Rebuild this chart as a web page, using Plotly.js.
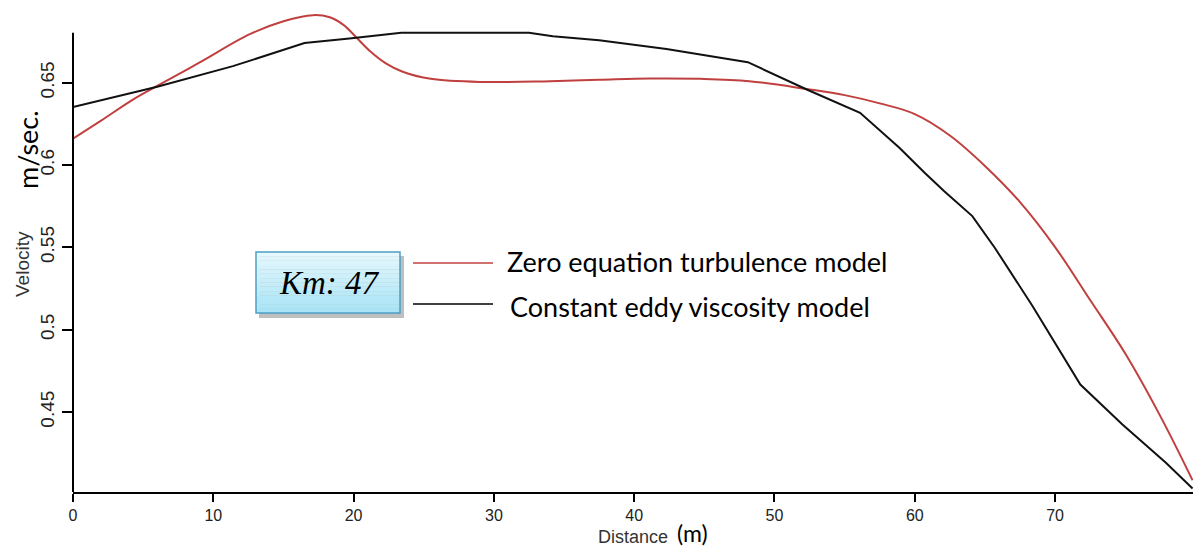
<!DOCTYPE html>
<html>
<head>
<meta charset="utf-8">
<script src="https://cdn.plot.ly/plotly-3.0.1.min.js"></script>
<style>
  html, body { margin: 0; padding: 0; background: #ffffff; }
  #chart { width: 1193px; height: 548px; }
</style>
</head>
<body>
<div id="chart"></div>
<script>
// ---- Data ----
const zeroEqX = [0, 2, 4.3, 5.9, 9, 12.6, 15, 17.1, 18.3, 19.3, 20.2, 21.2, 22.3, 23.5, 25.5, 29, 34, 37.5, 41.1, 44.7, 48.2, 52.3, 55, 57.5, 60, 62.5, 65, 67.5, 70, 72.5, 75, 77.5, 79.8];
const zeroEqY = [0.6160, 0.6270, 0.6399, 0.6476, 0.6622, 0.6795, 0.6874, 0.6911, 0.6898, 0.6850, 0.6775, 0.6690, 0.6618, 0.6567, 0.6524, 0.6505, 0.6510, 0.6518, 0.6526, 0.6524, 0.6510, 0.6462, 0.6425, 0.6375, 0.6310, 0.6180, 0.5995, 0.5775, 0.5502, 0.5180, 0.4855, 0.4475, 0.4085];

const constEddyX = [0, 6, 11.4, 16.5, 19.7, 23.4, 32.5, 34.2, 37.5, 42.3, 48.1, 52.3, 56.1, 58.9, 60.7, 62.1, 64.1, 65.7, 68.4, 70.3, 71.8, 74.8, 77.9, 79.8];
const constEddyY = [0.6352, 0.6476, 0.6601, 0.6742, 0.6769, 0.6804, 0.6804, 0.6783, 0.6758, 0.6705, 0.6625, 0.6459, 0.6318, 0.6105, 0.5953, 0.5841, 0.5690, 0.5498, 0.5143, 0.4880, 0.4667, 0.4424, 0.4191, 0.4035];

const xTickVals = [0, 10, 20, 30, 40, 50, 60, 70];
const xTickText = ["0", "10", "20", "30", "40", "50", "60", "70"];
const yTickVals = [0.45, 0.5, 0.55, 0.6, 0.65];
const yTickText = ["0.45", "0.5", "0.55", "0.6", "0.65"];

const seriesNames = ["Zero equation turbulence model", "Constant eddy viscosity model"];
const boxLabel = "Km: 47";

// ---- Layout helpers (pixel -> paper) ----
const L = 73, T = 12, W = 1120, H = 480, B = 56;
const px = x => (x - L) / W;
const py = y => (T + H - y) / H;

const xMax = 79.83;
const yMin = 0.4014, yMaxRange = 0.693, yAxisTop = 0.6804;

const shapes = [];
shapes.push({type: 'line', xref: 'paper', yref: 'y', x0: 0, x1: 0, y0: yMin, y1: yAxisTop,
  line: {color: '#000', width: 2}, layer: 'above'});
[yMin, yAxisTop].forEach(v => shapes.push({type: 'line', xref: 'x', xsizemode: 'pixel', xanchor: 0,
  x0: -10, x1: 0, yref: 'y', y0: v, y1: v, line: {color: '#000', width: 2}, layer: 'above'}));

// Km box: shadow + gradient bands + border
const bx0 = 256, bx1 = 400, by0 = 252, by1 = 313;
shapes.push({type: 'rect', xref: 'paper', yref: 'paper', x0: px(bx0 + 3), x1: px(bx1 + 4), y0: py(by0 + 4), y1: py(by1 + 5),
  fillcolor: 'rgba(0,0,0,0.25)', line: {width: 0}});
const nb = 14;
const c0 = [228, 248, 253], c1 = [168, 228, 246];
for (let i = 0; i < nb; i++) {
  const t = i / (nb - 1);
  const c = c0.map((v, k) => Math.round(v + (c1[k] - v) * t));
  shapes.push({type: 'rect', xref: 'paper', yref: 'paper', x0: px(bx0), x1: px(bx1),
    y0: py(by0 + (by1 - by0) * i / nb), y1: py(by0 + (by1 - by0) * (i + 1) / nb),
    fillcolor: 'rgb(' + c.join(',') + ')', line: {width: 0}});
}
shapes.push({type: 'rect', xref: 'paper', yref: 'paper', x0: px(bx0), x1: px(bx1), y0: py(by0), y1: py(by1),
  fillcolor: 'rgba(0,0,0,0)', line: {color: '#4d9fc6', width: 1.5}});

// legend sample lines
shapes.push({type: 'line', xref: 'paper', yref: 'paper', x0: px(413), x1: px(493), y0: py(263), y1: py(263),
  line: {color: '#c0403f', width: 1.5}});
shapes.push({type: 'line', xref: 'paper', yref: 'paper', x0: px(413), x1: px(493), y0: py(304), y1: py(304),
  line: {color: '#000', width: 1.5}});

const annotations = [
  {xref: 'paper', yref: 'paper', x: px(329), y: py(283), text: '<i>' + boxLabel + '</i>', showarrow: false,
   font: {family: 'Liberation Serif, DejaVu Serif, serif', size: 33, color: '#000'}, xanchor: 'center', yanchor: 'middle'},
  {xref: 'paper', yref: 'paper', x: px(505), y: py(261), text: seriesNames[0], showarrow: false,
   font: {family: 'Lato, Open Sans, sans-serif', size: 27, color: '#000'}, xanchor: 'left', yanchor: 'middle'},
  {xref: 'paper', yref: 'paper', x: px(508), y: py(306), text: seriesNames[1], showarrow: false,
   font: {family: 'Lato, Open Sans, sans-serif', size: 27, color: '#000'}, xanchor: 'left', yanchor: 'middle'},
  {xref: 'paper', yref: 'paper', x: px(22), y: py(264), text: 'Velocity', showarrow: false, textangle: -90,
   font: {family: 'Liberation Sans, Arial, sans-serif', size: 19, color: '#333'}, xanchor: 'center', yanchor: 'middle'},
  {xref: 'paper', yref: 'paper', x: px(27), y: py(150), text: 'm/sec.', showarrow: false, textangle: -90,
   font: {family: 'Lato, Open Sans, sans-serif', size: 27, color: '#000'}, xanchor: 'center', yanchor: 'middle'},
  {xref: 'paper', yref: 'paper', x: px(597), y: py(548), text: 'Distance', borderpad: 0,
   showarrow: false, font: {family: 'Liberation Sans, Arial, sans-serif', size: 18, color: '#333'},
   xanchor: 'left', yanchor: 'bottom'},
  {xref: 'paper', yref: 'paper', x: px(676), y: py(548), text: '(m)', borderpad: 0,
   showarrow: false, font: {family: 'Lato, Open Sans, sans-serif', size: 23, color: '#000'},
   xanchor: 'left', yanchor: 'bottom'}
];

const data = [
  {x: zeroEqX, y: zeroEqY, type: 'scatter', mode: 'lines', name: seriesNames[0],
   line: {color: '#c0403f', width: 2, shape: 'spline', smoothing: 1}},
  {x: constEddyX, y: constEddyY, type: 'scatter', mode: 'lines', name: seriesNames[1],
   line: {color: '#111', width: 2}}
];

const layout = {
  width: 1193, height: 548,
  margin: {l: L, r: 0, t: T, b: B, pad: 0},
  paper_bgcolor: '#fff', plot_bgcolor: '#fff',
  showlegend: false,
  xaxis: {
    range: [0, xMax], tickmode: 'array', tickvals: xTickVals, ticktext: xTickText,
    ticks: 'outside', ticklen: 8, tickwidth: 2, tickcolor: '#000',
    showline: true, linecolor: '#000', linewidth: 2, showgrid: false, zeroline: false,
    tickfont: {family: 'Liberation Sans, Arial, sans-serif', size: 16, color: '#222'}
  },
  yaxis: {
    range: [yMin, yMaxRange], tickmode: 'array', tickvals: yTickVals, ticktext: yTickText,
    ticks: 'outside', ticklen: 10, tickwidth: 2, tickcolor: '#000', tickangle: -90,
    showline: false, showgrid: false, zeroline: false,
    tickfont: {family: 'Liberation Sans, Arial, sans-serif', size: 19, color: '#222'}
  },
  shapes: shapes,
  annotations: annotations
};

Plotly.newPlot('chart', data, layout, {displayModeBar: false, staticPlot: true});
</script>
</body>
</html>
